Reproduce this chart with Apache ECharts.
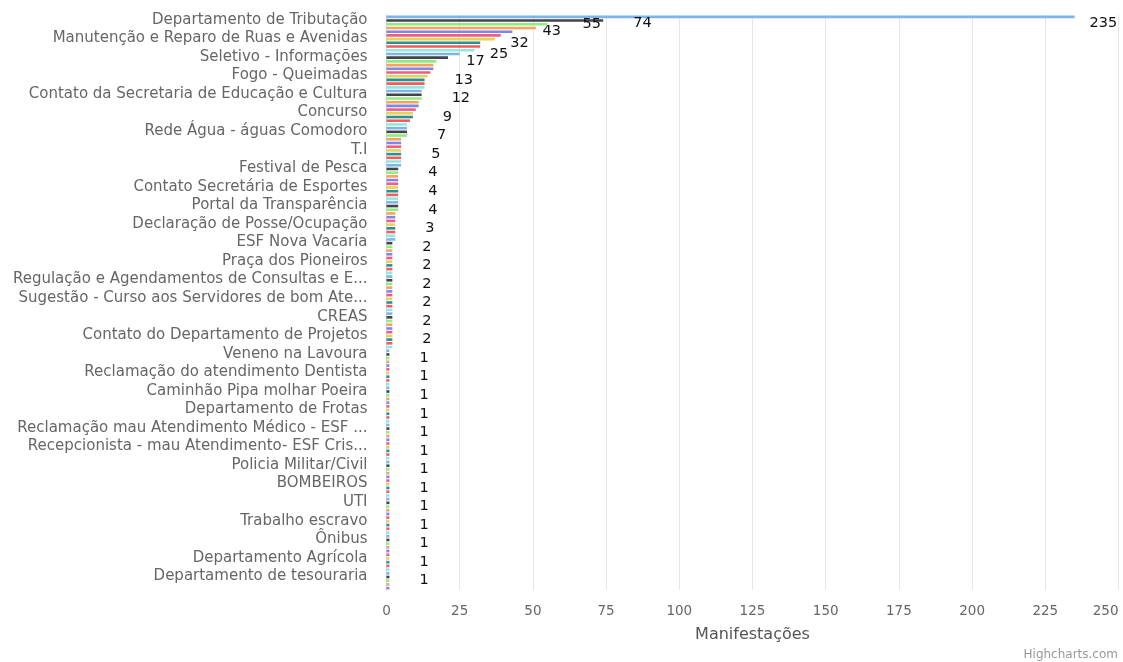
<!DOCTYPE html>
<html>
<head>
<meta charset="utf-8">
<script src="https://cdn.jsdelivr.net/npm/echarts@6/dist/echarts.min.js"></script>
<style>
html,body{margin:0;padding:0;background:#fff;}
#chart{width:1123px;height:662px;}
</style>
</head>
<body>
<div id="chart"></div>
<script>
// Visible category labels (every 5th category is labelled on the axis)
const tickLabels = [
  "Departamento de Tributação",
  "Manutenção e Reparo de Ruas e Avenidas",
  "Seletivo - Informações",
  "Fogo - Queimadas",
  "Contato da Secretaria de Educação e Cultura",
  "Concurso",
  "Rede Água - águas Comodoro",
  "T.I",
  "Festival de Pesca",
  "Contato Secretária de Esportes",
  "Portal da Transparência",
  "Declaração de Posse/Ocupação",
  "ESF Nova Vacaria",
  "Praça dos Pioneiros",
  "Regulação e Agendamentos de Consultas e E...",
  "Sugestão - Curso aos Servidores de bom Ate...",
  "CREAS",
  "Contato do Departamento de Projetos",
  "Veneno na Lavoura",
  "Reclamação do atendimento Dentista",
  "Caminhão Pipa molhar Poeira",
  "Departamento de Frotas",
  "Reclamação mau Atendimento Médico - ESF ...",
  "Recepcionista - mau Atendimento- ESF Cris...",
  "Policia Militar/Civil",
  "BOMBEIROS",
  "UTI",
  "Trabalho escravo",
  "Ônibus",
  "Departamento Agrícola",
  "Departamento de tesouraria"
];

// Manifestações per category (sorted descending)
const values = [
  235,74,55,51,43,39,37,32,32,30,
  25,21,17,16,16,15,14,13,13,13,
  12,12,12,11,11,10,9,9,8,7,
  7,7,7,5,5,5,5,5,5,5,
  5,4,4,4,4,4,4,4,4,4,
  4,4,4,3,3,3,3,3,3,3,
  3,2,2,2,2,2,2,2,2,2,
  2,2,2,2,2,2,2,2,2,2,
  2,2,2,2,2,2,2,2,2,2,
  1,1,1,1,1,1,1,1,1,1,
  1,1,1,1,1,1,1,1,1,1,
  1,1,1,1,1,1,1,1,1,1,
  1,1,1,1,1,1,1,1,1,1,
  1,1,1,1,1,1,1,1,1,1,
  1,1,1,1,1,1,1,1,1,1,
  1,1,1,1,1
];

const xTicks = [0,25,50,75,100,125,150,175,200,225,250];
const axisTitle = "Manifestações";
const credits = "Highcharts.com";

const palette = ['#7cb5ec','#434348','#90ed7d','#f7a35c','#8085e9','#f15c80','#e4d354','#2b908f','#f45b5b','#91e8e1'];

// categories: labelled names at every 5th position, unlabelled ones get placeholder ids
const categories = values.map((v, i) => (i % 5 === 0 && tickLabels[i / 5] !== undefined) ? tickLabels[i / 5] : ('item ' + (i + 1)));

// data labels that survive overlap in the reference
const topLabelled = [0, 1, 2, 4, 7, 10, 12];
function labelShown(i) {
  return topLabelled.indexOf(i) >= 0 || (i >= 17 && i % 5 === 2);
}

const seriesData = values.map((v, i) => {
  const item = { value: v, label: { show: labelShown(i) } };
  if (i === 0) { item.label.distance = 15; item.label.offset = [0, 6]; }
  if (i === 1) { item.label.offset = [0, 3]; }
  if (i === 2) { item.label.distance = 35; }
  return item;
});

const chart = echarts.init(document.getElementById('chart'), null, { renderer: 'canvas' });
chart.setOption({
  animation: false,
  color: palette,
  textStyle: { fontFamily: 'DejaVu Sans' },
  grid: { left: 386.5, right: 4.5, top: 15, bottom: 72, containLabel: false },
  xAxis: {
    type: 'value',
    min: xTicks[0],
    max: xTicks[xTicks.length - 1],
    interval: xTicks[1] - xTicks[0],
    axisLine: { show: false },
    axisTick: { show: false },
    splitLine: { show: true, lineStyle: { color: '#e6e6e6', width: 1 } },
    axisLabel: { color: '#666666', fontSize: 13.5, margin: 14, alignMaxLabel: 'right', fontFamily: 'DejaVu Sans' },
    name: axisTitle,
    nameLocation: 'middle',
    nameGap: 37,
    nameTextStyle: { color: '#555555', fontSize: 16, fontFamily: 'DejaVu Sans' }
  },
  yAxis: {
    type: 'category',
    inverse: true,
    data: categories,
    axisLine: { show: true, lineStyle: { color: '#ccd6eb', width: 1 } },
    axisTick: { show: false },
    splitLine: { show: false },
    axisLabel: { interval: 4, color: '#666666', fontSize: 15, margin: 19, lineHeight: 22, verticalAlign: 'top', padding: [-8, 0, 0, 0], fontFamily: 'DejaVu Sans' }
  },
  series: [{
    type: 'bar',
    colorBy: 'data',
    data: seriesData,
    barCategoryGap: '30%',
    label: {
      position: 'right',
      distance: 30,
      color: '#111111',
      fontSize: 14.5,
      fontFamily: 'DejaVu Sans'
    }
  }],
  graphic: [{
    type: 'text',
    right: 5,
    top: 649,
    style: { text: credits, fill: '#999999', fontSize: 12, fontFamily: 'DejaVu Sans' }
  }]
});
</script>
</body>
</html>
